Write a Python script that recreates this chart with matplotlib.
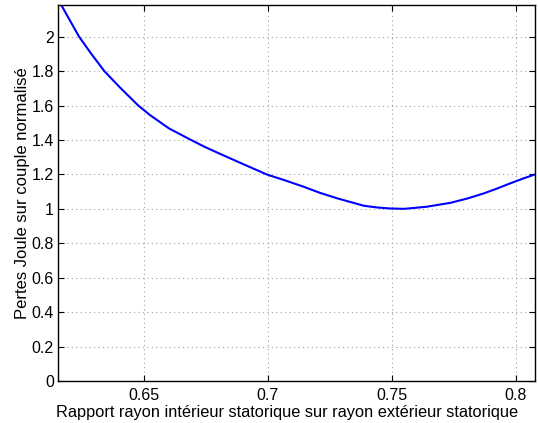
import matplotlib
matplotlib.use("Agg")
import matplotlib.pyplot as plt

ratio = [0.6153, 0.6166, 0.6238, 0.6285, 0.6340, 0.6403, 0.6477, 0.6524, 0.6601,
         0.6690, 0.6745, 0.6806, 0.6900, 0.6995, 0.7070, 0.7145, 0.7210, 0.7280,
         0.7387, 0.7440, 0.7493, 0.7550, 0.7640, 0.7737, 0.7805, 0.7872, 0.7925,
         0.7978, 0.8030, 0.8078]
losses = [2.21, 2.184, 2.0, 1.905, 1.8, 1.705, 1.6, 1.545, 1.467,
          1.4, 1.36, 1.32, 1.26, 1.2, 1.165, 1.128, 1.093, 1.061,
          1.018, 1.008, 1.002, 1.0, 1.012, 1.035, 1.06, 1.09, 1.118,
          1.148, 1.176, 1.2]

xticks = [0.65, 0.7, 0.75, 0.8]
xticklabels = ["0.65", "0.7", "0.75", "0.8"]
yticks = [0, 0.2, 0.4, 0.6, 0.8, 1.0, 1.2, 1.4, 1.6, 1.8, 2.0]
yticklabels = ["0", "0.2", "0.4", "0.6", "0.8", "1", "1.2", "1.4", "1.6", "1.8", "2"]

plt.rcParams['font.family'] = ['Liberation Sans', 'DejaVu Sans']

fig = plt.figure(figsize=(5.38, 4.23), dpi=100)
ax = fig.add_axes([58/538, 42/423, 477/538, 376/423])

ax.plot(ratio, losses, color=(0, 0, 1), linewidth=1.5, solid_joinstyle='round')
ax.set_xlim(0.6153, 0.8078)
ax.set_ylim(0, 2.184)
ax.set_xticks(xticks)
ax.set_xticklabels(xticklabels)
ax.set_yticks(yticks)
ax.set_yticklabels(yticklabels)
ax.grid(True, linestyle=(0, (1, 3)), color='#a0a0a0', linewidth=0.8)
ax.tick_params(axis='x', direction='in', top=True, labelsize=11.5, length=4, width=0.8, pad=5)
ax.tick_params(axis='y', direction='in', right=True, labelsize=11.5, length=4, width=0.8, pad=3)
for s in ax.spines.values():
    s.set_linewidth(1.0)
ax.set_xlabel("Rapport rayon intérieur statorique sur rayon extérieur statorique", fontsize=11.8, labelpad=3)
ax.xaxis.set_label_coords((287.5 - 58) / 477, -0.065)
ax.set_ylabel("Pertes Joule sur couple normalisé", fontsize=12, labelpad=1)

fig.savefig("out.png", dpi=100)
